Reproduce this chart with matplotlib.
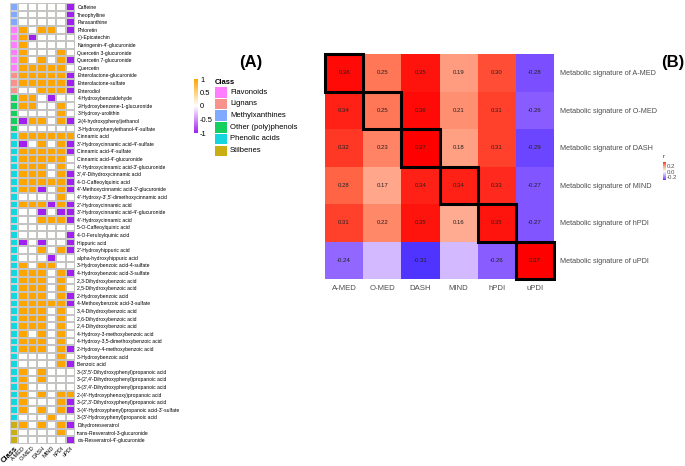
import numpy as np
import matplotlib
matplotlib.use('Agg')
import matplotlib.pyplot as plt
from matplotlib.colors import LinearSegmentedColormap, ListedColormap, Normalize
from matplotlib.patches import Rectangle

plt.rcParams['font.family'] = ['Liberation Sans', 'DejaVu Sans']

W, H = 685, 466

# ---- panel A data ----
metabolites = [
    'Caffeine', 'Theophylline', 'Paraxanthine', 'Phloretin', '(-)-Epicatechin',
    "Naringenin-4'-glucuronide", 'Quercetin 3-glucuronide', 'Quercetin 7-glucuronide',
    'Quercetin', 'Enterolactone-glucuronide', 'Enterolactone-sulfate', 'Enterodiol',
    '4-Hydroxybenzaldehyde', '2-Hydroxybenzene-1-glucuronide', '3-Hydroxy-urolithin',
    '2-(4-hydroxyphenyl)ethanol', "3'-Hydroxyphenylethanol-4'-sulfate", 'Cinnamic acid',
    "3'-Hydroxycinnamic acid-4'-sulfate", "Cinnamic acid-4'-sulfate",
    "Cinnamic acid-4'-glucuronide", "4'-Hydroxycinnamic acid-3'-glucuronide",
    "3',4'-Dihydroxycinnamic acid", '4-O-Caffeoylquinic acid',
    "4'-Methoxycinnamic acid-3'-glucuronide", "4'-Hydroxy-3',5'-dimethoxycinnamic acid",
    "2'-Hydroxycinnamic acid", "3'-Hydroxycinnamic acid-4'-glucuronide",
    "4'-Hydroxycinnamic acid", '5-O-Caffeoylquinic acid', '4-O-Feruloylquinic acid',
    'Hippuric acid', "2'-Hydroxyhippuric acid", 'alpha-hydroxyhippuric acid',
    '3-Hydroxybenzoic acid-4-sulfate', '4-Hydroxybenzoic acid-3-sulfate',
    '2,3-Dihydroxybenzoic acid', '2,5-Dihydroxybenzoic acid', '2-Hydroxybenzoic acid',
    '4-Methoxybenzoic acid-3-sulfate', '3,4-Dihydroxybenzoic acid',
    '2,6-Dihydroxybenzoic acid', '2,4-Dihydroxybenzoic acid',
    '4-Hydroxy-3-methoxybenzoic acid', '4-Hydroxy-3,5-dimethoxybenzoic acid',
    '2-Hydroxy-4-methoxybenzoic acid', '3-Hydroxybenzoic acid', 'Benzoic acid',
    "3-(3',5'-Dihydroxyphenyl)propanoic acid", "3-(2',4'-Dihydroxyphenyl)propanoic acid",
    "3-(3',4'-Dihydroxyphenyl)propanoic acid", "2-(4'-Hydroxyphenoxy)propanoic acid",
    "3-(2',3'-Dihydroxyphenyl)propanoic acid",
    "3-(4'-Hydroxyphenyl)propanoic acid-3'-sulfate", "3-(3'-Hydroxyphenyl)propanoic acid",
    'Dihydroresveratrol', 'trans-Resveratrol-3-glucuronide', "cis-Resveratrol-4'-glucuronide",
]

class_names = ['Flavonoids', 'Lignans', 'Methylxanthines', 'Other (poly)phenols',
               'Phenolic acids', 'Stilbenes']
class_colors = ['#FF7DFF', '#F8928A', '#80AAFF', '#14CF5E', '#14D6DE', '#C9AE14']
class_sizes = [('Methylxanthines', 3), ('Flavonoids', 6), ('Lignans', 3),
               ('Other (poly)phenols', 5), ('Phenolic acids', 38), ('Stilbenes', 3)]

diets = ['A-MED', 'O-MED', 'DASH', 'MIND', 'hPDI', 'uPDI']

# sign of the coefficient in each diet signature (1 = positive, -1 = negative, 0 = not selected)
coef_sign = [
    [0, 0, 0, 0, 0, -1],
    [0, 0, 0, 0, 0, -1],
    [0, 0, 0, 0, 0, -1],
    [1, 0, 1, 1, 0, -1],
    [1, -1, 0, 0, 0, 0],
    [1, 0, 0, 0, 0, 0],
    [1, 0, 0, 0, 1, 0],
    [1, 0, 1, 0, 1, -1],
    [1, 1, 1, 1, 1, 0],
    [1, 1, 1, 1, 1, -1],
    [1, 1, 1, 1, 1, -1],
    [0, 0, 1, 1, 1, -1],
    [1, 1, 0, -1, 0, 0],
    [1, 1, 0, 0, 1, 0],
    [0, 0, 0, 0, 1, 0],
    [-1, 1, 1, 0, 1, -1],
    [0, 0, 0, 0, 0, 0],
    [1, 1, 1, 1, 1, 1],
    [-1, 0, 1, 0, 1, -1],
    [1, 1, 1, 1, 1, -1],
    [1, 1, 1, 1, 1, 0],
    [1, 1, 1, 0, 1, 0],
    [1, 1, 1, 0, 1, -1],
    [1, 1, 1, 1, 1, -1],
    [1, 1, -1, 0, 1, -1],
    [0, 0, 0, 0, 1, 0],
    [1, 1, 1, -1, 1, -1],
    [0, 0, -1, 0, -1, -1],
    [0, 0, 1, 1, 1, -1],
    [0, 0, 0, 0, 0, 0],
    [0, 0, 0, 0, 0, -1],
    [-1, 0, -1, 0, 0, -1],
    [0, 0, 1, 0, 1, -1],
    [0, 0, 0, -1, 0, 0],
    [1, 0, 1, 1, 0, 0],
    [1, 1, 1, 0, 1, -1],
    [1, 1, 1, 0, 1, 0],
    [1, 1, 1, 0, 1, 0],
    [1, 1, 1, 0, 1, -1],
    [1, 1, 1, 1, 1, -1],
    [1, 1, 1, 0, 1, 0],
    [1, 1, 1, 0, 1, 0],
    [1, 1, 1, 0, 1, 0],
    [1, 0, 1, 0, 1, 0],
    [1, 1, 1, 0, 1, 0],
    [1, 1, 1, 0, 1, -1],
    [0, 0, 0, 0, 1, 0],
    [0, 0, 0, 0, 1, -1],
    [1, 0, 1, 0, 0, 0],
    [1, 0, 1, 0, 0, 0],
    [1, 0, 0, 0, 0, 0],
    [1, 0, 1, 0, 1, 1],
    [1, 0, 0, 0, 1, -1],
    [1, 0, 1, 0, 1, -1],
    [0, 0, 0, 1, 0, 0],
    [1, 0, 1, 0, 1, -1],
    [0, 0, 0, 0, 1, 0],
    [0, 0, 0, 0, 0, -1],
]

# ---- panel B data ----
signatures = ['Metabolic signature of A-MED', 'Metabolic signature of O-MED',
              'Metabolic signature of DASH', 'Metabolic signature of MIND',
              'Metabolic signature of hPDI', 'Metabolic signature of uPDI']
r_values = [
    [0.36, 0.25, 0.35, 0.19, 0.30, -0.28],
    [0.34, 0.25, 0.36, 0.21, 0.31, -0.26],
    [0.32, 0.23, 0.37, 0.18, 0.31, -0.29],
    [0.28, 0.17, 0.34, 0.34, 0.33, -0.27],
    [0.31, 0.22, 0.35, 0.16, 0.35, -0.27],
    [-0.24, -0.11, -0.31, -0.11, -0.26, 0.37],
]
# cells printed with their value (blank = not significant)
r_printed = [
    [1, 1, 1, 1, 1, 1],
    [1, 1, 1, 1, 1, 1],
    [1, 1, 1, 1, 1, 1],
    [1, 1, 1, 1, 1, 1],
    [1, 1, 1, 1, 1, 1],
    [1, 0, 1, 0, 1, 1],
]


def px_axes(fig, x0, y0, x1, y1):
    # axes placed with pixel coordinates measured from the top-left corner
    return fig.add_axes([x0 / W, 1 - y1 / H, (x1 - x0) / W, (y1 - y0) / H])


def clean(ax):
    for s in ax.spines.values():
        s.set_visible(False)
    ax.tick_params(length=0)


fig = plt.figure(figsize=(W / 100, H / 100), dpi=100)

# ---------------- panel A ----------------
row_class = []
for name, n in class_sizes:
    row_class += [name] * n
n_rows = len(metabolites)
grid_top, grid_bot = 3.3, 444

ax_cls = px_axes(fig, 10, grid_top, 18.3, grid_bot)
cls_idx = np.array([class_names.index(c) for c in row_class])[:, None]
ax_cls.pcolormesh(cls_idx, cmap=ListedColormap(class_colors), vmin=-0.5, vmax=5.5,
                  edgecolors='#D0D0D0', linewidth=0.3)
ax_cls.set_ylim(n_rows, 0)
ax_cls.set_yticks([])
ax_cls.set_xticks([0.5])
ax_cls.set_xticklabels(['Class'], rotation=45, ha='right', va='top',
                       rotation_mode='anchor', fontsize=5.5, fontweight='bold')
clean(ax_cls)
ax_cls.tick_params(axis='x', pad=1)

sign_cmap = LinearSegmentedColormap.from_list('sign', ['#A020F0', 'white', '#FFA500'])
ax_a = px_axes(fig, 18.3, grid_top, 75.3, grid_bot)
ax_a.pcolormesh(np.array(coef_sign), cmap=sign_cmap, vmin=-1, vmax=1,
                edgecolors='#C4C4C4', linewidth=0.3)
ax_a.set_ylim(n_rows, 0)
ax_a.set_yticks(np.arange(n_rows) + 0.5)
ax_a.set_yticklabels(metabolites, fontsize=3.6)
ax_a.yaxis.tick_right()
ax_a.set_xticks(np.arange(len(diets)) + 0.5)
ax_a.set_xticklabels(diets, rotation=45, ha='right', va='top',
                     rotation_mode='anchor', fontsize=4)
clean(ax_a)
ax_a.tick_params(axis='y', pad=1.5)
ax_a.tick_params(axis='x', pad=1)

# colour key for the coefficients
ax_ka = px_axes(fig, 194, 79, 198, 133)
ax_ka.imshow(np.linspace(-1, 1, 256)[:, None], cmap=sign_cmap, aspect='auto',
             origin='lower', extent=[0, 1, -1, 1])
ax_ka.set_xticks([])
ax_ka.yaxis.tick_right()
ax_ka.set_yticks([1, 0.5, 0, -0.5, -1])
ax_ka.set_yticklabels(['1', '0.5', '0', '-0.5', '-1'], fontsize=5.5)
clean(ax_ka)
ax_ka.tick_params(axis='y', pad=1.5)

# class legend
fig.text(215 / W, 1 - 82 / H, 'Class', fontsize=5.5, fontweight='bold',
         ha='left', va='center')
for k, (name, col) in enumerate(zip(class_names, class_colors)):
    y0 = 87 + k * 11.7
    fig.patches.append(Rectangle((215 / W, 1 - (y0 + 10.5) / H), 12 / W, 10.5 / H,
                                 transform=fig.transFigure, facecolor=col,
                                 edgecolor='none'))
    fig.text(230 / W, 1 - (y0 + 5.2) / H, name, fontsize=5.5, ha='left', va='center')

fig.text(251 / W, 1 - 62 / H, '(A)', fontsize=12, fontweight='bold',
         ha='center', va='center')

# ---------------- panel B ----------------
r_cmap = LinearSegmentedColormap.from_list(
    'r', ['#0000FF', '#7E51FF', '#B28BFF', '#DCC5FF', '#FFFFFF',
          '#FFCFBF', '#FF9E81', '#FF6846', '#FF0000'])
r_norm = Normalize(-0.37, 0.37)
r = np.array(r_values)

ax_b = px_axes(fig, 325, 54, 554, 279)
ax_b.pcolormesh(r, cmap=r_cmap, norm=r_norm)
ax_b.set_ylim(len(signatures), 0)
ax_b.set_xlim(0, len(diets))
for i in range(r.shape[0]):
    for j in range(r.shape[1]):
        if r_printed[i][j]:
            ax_b.text(j + 0.5, i + 0.5, f'{r[i, j]:.2f}', ha='center', va='center',
                      fontsize=4.3, color='#222222')
for i in range(len(diets)):
    ax_b.add_patch(Rectangle((i, i), 1, 1, fill=False, edgecolor='black',
                             linewidth=2.2, clip_on=False, zorder=5))
ax_b.set_yticks(np.arange(len(signatures)) + 0.5)
ax_b.set_yticklabels(signatures, fontsize=5.2, color='#4D4D4D')
ax_b.yaxis.tick_right()
ax_b.set_xticks(np.arange(len(diets)) + 0.5)
ax_b.set_xticklabels(diets, fontsize=5.6, color='#4D4D4D')
clean(ax_b)
ax_b.tick_params(axis='y', pad=4)
ax_b.tick_params(axis='x', pad=4)

# colour key for r
ax_kb = px_axes(fig, 662.7, 161.7, 665.7, 180.5)
ax_kb.imshow(np.linspace(-0.31, 0.37, 256)[:, None], cmap=r_cmap, norm=r_norm,
             aspect='auto', origin='lower', extent=[0, 1, -0.31, 0.37])
ax_kb.set_xticks([])
ax_kb.yaxis.tick_right()
ax_kb.set_yticks([0.2, 0.0, -0.2])
ax_kb.set_yticklabels(['0.2', '0.0', '-0.2'], fontsize=4.3, color='#4D4D4D')
clean(ax_kb)
ax_kb.tick_params(axis='y', pad=1)
fig.text(663 / W, 1 - 157 / H, 'r', fontsize=4.5, color='#333333', ha='left', va='center')

fig.text(673 / W, 1 - 62 / H, '(B)', fontsize=12, fontweight='bold',
         ha='center', va='center')

fig.savefig('out.png', dpi=100)
